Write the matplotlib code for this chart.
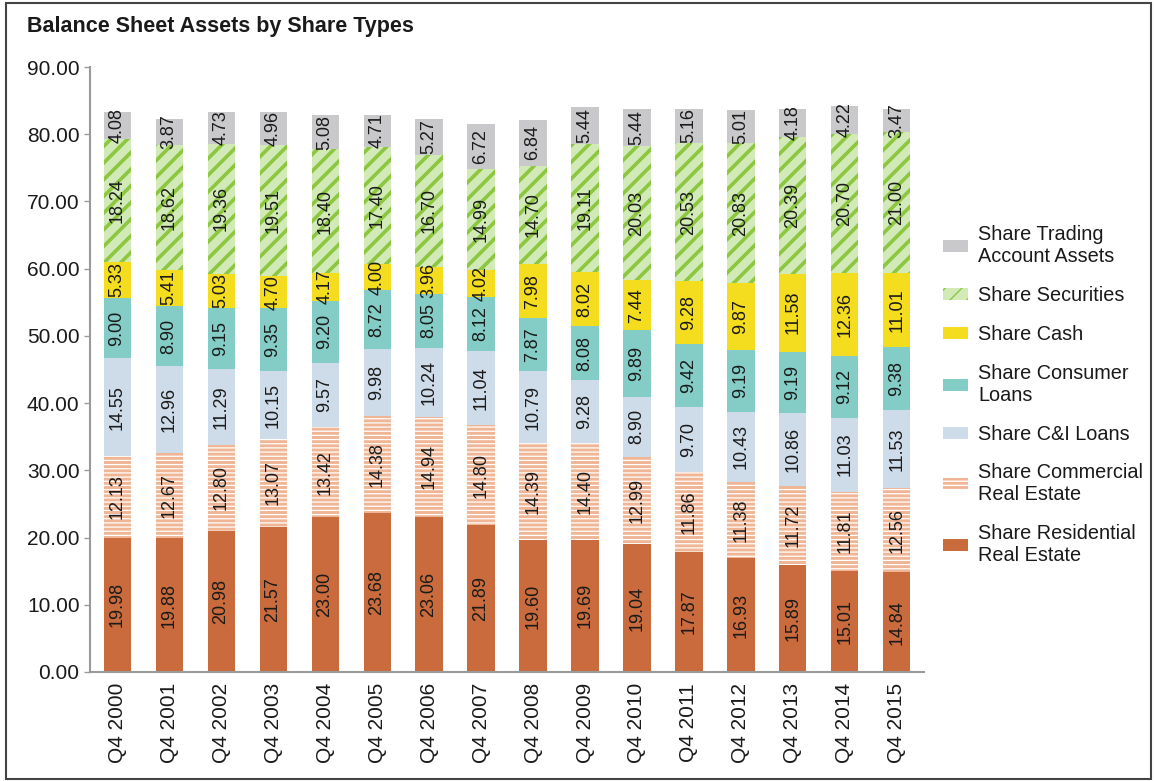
import matplotlib
matplotlib.use("Agg")
import matplotlib.pyplot as plt
from matplotlib.patches import Rectangle, Patch
import numpy as np

plt.rcParams['font.family'] = ['Liberation Sans Narrow', 'Liberation Sans', 'DejaVu Sans']

categories = ["Q4 2000", "Q4 2001", "Q4 2002", "Q4 2003", "Q4 2004", "Q4 2005",
              "Q4 2006", "Q4 2007", "Q4 2008", "Q4 2009", "Q4 2010", "Q4 2011",
              "Q4 2012", "Q4 2013", "Q4 2014", "Q4 2015"]

residential = [19.98, 19.88, 20.98, 21.57, 23.00, 23.68, 23.06, 21.89, 19.60, 19.69, 19.04, 17.87, 16.93, 15.89, 15.01, 14.84]
commercial = [12.13, 12.67, 12.80, 13.07, 13.42, 14.38, 14.94, 14.80, 14.39, 14.40, 12.99, 11.86, 11.38, 11.72, 11.81, 12.56]
cni = [14.55, 12.96, 11.29, 10.15, 9.57, 9.98, 10.24, 11.04, 10.79, 9.28, 8.90, 9.70, 10.43, 10.86, 11.03, 11.53]
consumer = [9.00, 8.90, 9.15, 9.35, 9.20, 8.72, 8.05, 8.12, 7.87, 8.08, 9.89, 9.42, 9.19, 9.19, 9.12, 9.38]
cash = [5.33, 5.41, 5.03, 4.70, 4.17, 4.00, 3.96, 4.02, 7.98, 8.02, 7.44, 9.28, 9.87, 11.58, 12.36, 11.01]
securities = [18.24, 18.62, 19.36, 19.51, 18.40, 17.40, 16.70, 14.99, 14.70, 19.11, 20.03, 20.53, 20.83, 20.39, 20.70, 21.00]
trading = [4.08, 3.87, 4.73, 4.96, 5.08, 4.71, 5.27, 6.72, 6.84, 5.44, 5.44, 5.16, 5.01, 4.18, 4.22, 3.47]

series = [
    ("Share Residential\nReal Estate", residential, dict(color="#C96B3C"), 1.0),
    ("Share Commercial\nReal Estate", commercial, dict(facecolor="#EFB594", edgecolor="#FFFFFF", hatch="----"), 0.9),
    ("Share C&I Loans", cni, dict(color="#CEDBE9"), 1.0),
    ("Share Consumer\nLoans", consumer, dict(color="#84CDC6"), 1.0),
    ("Share Cash", cash, dict(color="#F4DC1E"), 1.0),
    ("Share Securities", securities, dict(facecolor="#D2EAB8", edgecolor="#8DC63F", hatch="//"), 2.6),
    ("Share Trading\nAccount Assets", trading, dict(color="#C9C9CB"), 1.0),
]

fig = plt.figure(figsize=(11.54, 7.81), dpi=100)
ax = fig.add_axes([0.0780, 0.1396, 0.7227, 0.7746])

x = np.arange(len(categories))
bottom = np.zeros(len(categories))
handles = []
for label, vals, style, hlw in series:
    vals = np.array(vals)
    with plt.rc_context({'hatch.linewidth': hlw}):
        ax.bar(x, vals, 0.52, bottom=bottom, linewidth=0, label=label, **style)
        handles.append(Patch(label=label, linewidth=0, **style))
    for xi, b, v in zip(x, bottom, vals):
        ax.text(xi, b + v / 2, f"{v:.2f}", rotation=90, ha="center", va="center",
                fontsize=13, color="#1a1a1a")
    bottom += vals

ax.set_xlim(-0.52, 15.52)
ax.set_ylim(0, 90)
ax.set_yticks(np.arange(0, 91, 10))
ax.set_yticklabels([f"{t:.2f}" for t in np.arange(0, 91, 10)], fontsize=15, color="#1a1a1a")
ax.set_xticks(x)
ax.set_xticklabels(categories, rotation=90, fontsize=15, color="#1a1a1a")
ax.tick_params(axis="x", length=0, pad=8)
ax.tick_params(axis="y", length=4, color="#9a9a9a", width=1)
for s in ["top", "right"]:
    ax.spines[s].set_visible(False)
for s in ["left", "bottom"]:
    ax.spines[s].set_color("#9a9a9a")
    ax.spines[s].set_linewidth(1.5)

fig.text(0.023, 0.966, "Balance Sheet Assets by Share Types", fontsize=15.5, fontweight="bold",
         ha="left", va="center", color="#1a1a1a")

leg = fig.legend(handles=handles[::-1], loc="center left", bbox_to_anchor=(0.802, 0.494),
                 frameon=False, fontsize=14.3, handlelength=1.25, handleheight=0.55,
                 handletextpad=0.5, labelspacing=1.0)
for t in leg.get_texts():
    t.set_color("#1a1a1a")
    t.set_linespacing(1.2)

fig.patches.append(Rectangle((0.005, 0.002), 0.992, 0.994, transform=fig.transFigure,
                             fill=False, edgecolor="#444444", linewidth=1.5))

fig.savefig("out.png", dpi=100)
